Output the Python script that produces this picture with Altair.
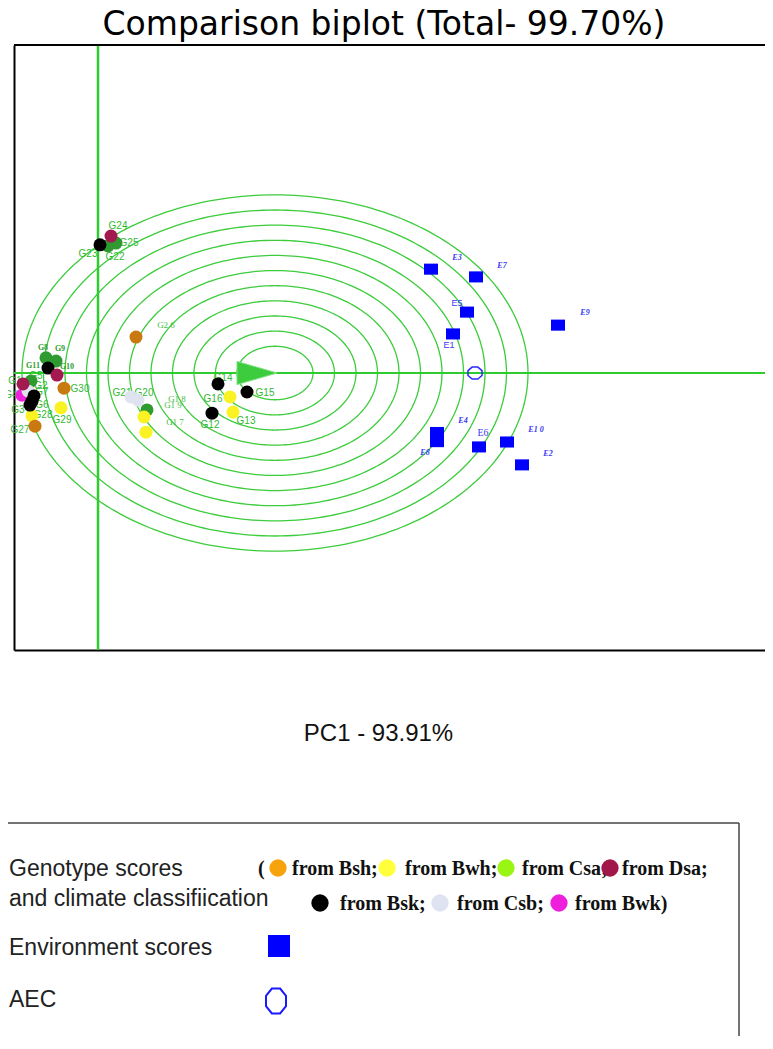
import altair as alt
import numpy as np
import pandas as pd

# ---------------- data (biplot units) ----------------
GEN_NAMES = [f"G{i}" for i in range(1, 31)]
GEN_GROUPS = ["Dsa", "Csb", "Bsk", "Bwk", "Csa", "Bsk", "Bsk", "Csa", "Csa", "Dsa",
              "Bsk", "Bsk", "Bwh", "Bsk", "Bsk", "Bwh", "Bwh", "Bwh", "Csa", "Csb",
              "Csb", "Csa", "Bsk", "Dsa", "Csa", "Bsh", "Bsh", "Bwh", "Bwh", "Bsh"]
GEN_PC1 = [-1.50, -1.40, -1.36, -1.52, -1.34, -1.32, -1.28, -1.04, -0.84, -0.82,
           -1.00, 2.28, 2.70, 2.40, 2.98, 2.64, 0.96, 0.92, 0.98, 0.80,
           0.66, 0.20, 0.04, 0.26, 0.36, 0.76, -1.26, -1.32, -0.74, -0.68]
GEN_PC2 = [-0.31, -0.51, -0.91, -0.63, -0.23, -0.80, -0.65, 0.43, 0.34, -0.06,
           0.14, -1.14, -1.11, -0.31, -0.54, -0.68, -1.68, -1.25, -1.05, -0.77,
           -0.68, 3.61, 3.64, 3.89, 3.69, 1.02, -1.51, -1.22, -0.99, -0.43]
GEN_LABELS = ["G1", "G2", "G3", "G4", "G5", "G6", "G7", "G8", "G9", "G10",
              "G11", "G12", "G13", "G14", "G15", "G16", "G1 7", "G1 8", "G1 9", "G20",
              "G21", "G22", "G23", "G24", "G25", "G2 6", "G27", "G28", "G29", "G30"]
GEN_LABEL_PC1 = [-1.66, -1.14, -1.60, -1.74, -1.24, -1.12, -1.12, -1.10, -0.76, -0.62,
                 -1.30, 2.24, 2.96, 2.50, 3.34, 2.30, 1.54, 1.58, 1.50, 0.92,
                 0.48, 0.34, -0.20, 0.40, 0.62, 1.36, -1.56, -1.10, -0.72, -0.36]
GEN_LABEL_PC2 = [-0.23, -0.37, -1.05, -0.63, -0.09, -0.91, -0.54, 0.71, 0.68, 0.17,
                 0.20, -1.48, -1.36, -0.14, -0.57, -0.74, -1.39, -0.74, -0.91, -0.57,
                 -0.57, 3.30, 3.38, 4.18, 3.69, 1.36, -1.62, -1.19, -1.34, -0.45]

ENV_NAMES = [f"E{i}" for i in range(1, 11)]
ENV_LABELS = ["E1", "E2", "E3", "E4", "E5", "E6", "E7", "E8", "E9", "E1 0"]
ENV_PC1 = [7.10, 8.48, 6.66, 6.78, 7.38, 7.62, 7.56, 6.78, 9.20, 8.18]
ENV_PC2 = [1.11, -2.61, 2.95, -1.69, 1.73, -2.10, 2.73, -1.95, 1.36, -1.96]
ENV_LABEL_PC1 = [7.02, 9.00, 7.18, 7.30, 7.18, 7.70, 8.08, 6.54, 9.74, 8.76]
ENV_LABEL_PC2 = [0.80, -2.30, 3.27, -1.36, 1.99, -1.70, 3.04, -2.27, 1.70, -1.62]

AEC_PC1 = [7.54]
AEC_PC2 = [0.0]
IDEAL_PC1 = [3.18]
IDEAL_PC2 = [0.0]
RING_CENTER = [3.54, 0.0]
RING_RADII = [0.76, 1.19, 1.62, 2.05, 2.48, 2.91, 3.34, 3.77, 4.20, 4.63, 5.06]

GROUPS = ["Bsh", "Bwh", "Csa", "Dsa", "Bsk", "Csb", "Bwk"]
PLOT_COLORS = ["#c8790f", "#fbf224", "#2f9a2f", "#a21a4f", "#000000", "#dfe3ef", "#ef22dd"]
LEGEND_COLORS = ["#f7a30c", "#ffff3a", "#9bf514", "#a1174a", "#000000", "#dde3f0", "#ee20dc"]
DRAW_RANK = {"Csa": 0, "Bwk": 1, "Csb": 2, "Bwh": 3, "Bsh": 4, "Bsk": 5, "Dsa": 6}

TITLE = "Comparison biplot (Total- 99.70%)"
X_TITLE = "PC1 - 93.91%"

# label styles
SERIF_BOLD_LABELS = ["G8", "G9", "G10", "G11"]
SERIF_LABELS = ["G1 7", "G1 8", "G1 9", "G2 6"]
ENV_SANS = ["E1", "E5"]
ENV_SERIF = ["E6"]

# ---------------- tables ----------------
gen = pd.DataFrame({"name": GEN_NAMES, "group": GEN_GROUPS, "pc1": GEN_PC1, "pc2": GEN_PC2})
gen["rank"] = gen["group"].map(DRAW_RANK)
gen = gen.sort_values("rank", kind="stable")
gen_lab = pd.DataFrame({"label": GEN_LABELS, "pc1": GEN_LABEL_PC1, "pc2": GEN_LABEL_PC2})
env = pd.DataFrame({"name": ENV_NAMES, "pc1": ENV_PC1, "pc2": ENV_PC2})
env_lab = pd.DataFrame({"label": ENV_LABELS, "pc1": ENV_LABEL_PC1, "pc2": ENV_LABEL_PC2})
aec = pd.DataFrame({"pc1": AEC_PC1, "pc2": AEC_PC2})
ideal = pd.DataFrame({"pc1": IDEAL_PC1, "pc2": IDEAL_PC2})

theta = np.linspace(0, 2 * np.pi, 241)
ring_rows = []
for k, r in enumerate(RING_RADII):
    for i, t in enumerate(theta):
        ring_rows.append({"ring": k, "idx": i,
                          "pc1": RING_CENTER[0] + r * np.cos(t),
                          "pc2": RING_CENTER[1] + r * np.sin(t)})
rings = pd.DataFrame(ring_rows)

# ---------------- scales / axes ----------------
W, H = 751, 605
xscale = alt.Scale(domain=[-1.68, 13.34], nice=False, zero=False)
yscale = alt.Scale(domain=[-7.869, 9.318], nice=False, zero=False)
xaxis = alt.Axis(title=X_TITLE, domain=True, domainColor="black", domainWidth=2,
                 ticks=False, labels=False, grid=False,
                 titleFont="Liberation Sans", titleFontSize=24, titleFontWeight="normal",
                 titleColor="#111111", titleX=364, titleY=90,
                 titleBaseline="alphabetic", titleAlign="center")
yaxis = alt.Axis(title="", domain=True, domainColor="black", domainWidth=2,
                 ticks=False, labels=False, grid=False)


def X(field="pc1"):
    return alt.X(f"{field}:Q", scale=xscale, axis=xaxis)


def Y(field="pc2"):
    return alt.Y(f"{field}:Q", scale=yscale, axis=yaxis)


GREEN = "#3ccc3c"
color_scale = alt.Scale(domain=GROUPS, range=PLOT_COLORS)

ring_layer = alt.Chart(rings).mark_line(color=GREEN, strokeWidth=1.3).encode(
    x=X(), y=Y(), detail="ring:N", order="idx:Q")

hline = alt.Chart(pd.DataFrame({"pc2": [0.0]})).mark_rule(color="#2ecc2e", strokeWidth=2.2).encode(y=Y())
vline = alt.Chart(pd.DataFrame({"pc1": [0.0]})).mark_rule(color="#2ecc2e", strokeWidth=2.5).encode(x=X())

top_frame = alt.Chart(pd.DataFrame({"a": [0]})).mark_rule(color="black", strokeWidth=2).encode(
    x=alt.value(0), x2=alt.value(W), y=alt.value(0))

title_mark = alt.Chart(pd.DataFrame({"t": [TITLE]})).mark_text(
    font="DejaVu Sans", fontSize=33, color="#000000", align="center", baseline="alphabetic"
).encode(x=alt.value(370), y=alt.value(-10), text="t:N")

arrow = alt.Chart(ideal).mark_point(
    shape="M-1,-0.58L1,0L-1,0.58Z", size=1600, filled=True, fill="#3dcc3d",
    stroke="#7fe27f", strokeWidth=1, opacity=1).encode(x=X(), y=Y())

lab_base = alt.Chart(gen_lab)
gen_lab_sans = lab_base.transform_filter(
    ~alt.FieldOneOfPredicate(field="label", oneOf=SERIF_BOLD_LABELS + SERIF_LABELS)
).mark_text(font="Liberation Sans", fontSize=10, color="#33b833").encode(x=X(), y=Y(), text="label:N")
gen_lab_sb = lab_base.transform_filter(
    alt.FieldOneOfPredicate(field="label", oneOf=SERIF_BOLD_LABELS)
).mark_text(font="Liberation Serif", fontSize=8, fontWeight="bold", color="#2e9e2e").encode(
    x=X(), y=Y(), text="label:N")
gen_lab_s = lab_base.transform_filter(
    alt.FieldOneOfPredicate(field="label", oneOf=SERIF_LABELS)
).mark_text(font="Liberation Serif", fontSize=9, color="#44c044").encode(x=X(), y=Y(), text="label:N")

gen_pts = alt.Chart(gen).mark_circle(size=169, opacity=1).encode(
    x=X(), y=Y(), color=alt.Color("group:N", scale=color_scale, legend=None))

env_pts = alt.Chart(env).mark_point(
    shape="M-1,-0.79L1,-0.79L1,0.79L-1,0.79Z", size=196, filled=True, fill="#0000ff",
    opacity=1).encode(x=X(), y=Y())

env_base = alt.Chart(env_lab)
env_lab_it = env_base.transform_filter(
    ~alt.FieldOneOfPredicate(field="label", oneOf=ENV_SANS + ENV_SERIF)
).mark_text(font="Liberation Serif", fontSize=8, fontStyle="italic", fontWeight="bold",
            color="#3a3af0").encode(x=X(), y=Y(), text="label:N")
env_lab_sans = env_base.transform_filter(
    alt.FieldOneOfPredicate(field="label", oneOf=ENV_SANS)
).mark_text(font="Liberation Sans", fontSize=9, color="#3a3af0").encode(x=X(), y=Y(), text="label:N")
env_lab_serif = env_base.transform_filter(
    alt.FieldOneOfPredicate(field="label", oneOf=ENV_SERIF)
).mark_text(font="Liberation Serif", fontSize=10, color="#3a3af0").encode(x=X(), y=Y(), text="label:N")

OCTAGON = "M-0.41,-0.85L0.41,-0.85L1,-0.35L1,0.35L0.41,0.85L-0.41,0.85L-1,0.35L-1,-0.35Z"
aec_pt = alt.Chart(aec).mark_point(shape=OCTAGON, size=196, filled=False, stroke="#2a2aff",
                                   strokeWidth=1.5, opacity=1).encode(x=X(), y=Y())


# ---------------- custom legend box ----------------
def ltext(txt, x, y, size, font, weight="normal", color="#222222"):
    return alt.Chart(pd.DataFrame({"t": [txt]})).mark_text(
        align="left", baseline="alphabetic", font=font, fontSize=size,
        fontWeight=weight, color=color).encode(x=alt.value(x), y=alt.value(y), text="t:N")


def ldot(color, x, y):
    return alt.Chart(pd.DataFrame({"c": [color]})).mark_circle(
        size=300, color=color, opacity=1).encode(x=alt.value(x), y=alt.value(y))


legend_layers = [
    alt.Chart(pd.DataFrame({"a": [0]})).mark_rule(color="#444444", strokeWidth=1.5).encode(
        x=alt.value(-6), x2=alt.value(725), y=alt.value(778)),
    alt.Chart(pd.DataFrame({"a": [0]})).mark_rule(color="#444444", strokeWidth=1.5).encode(
        x=alt.value(725), y=alt.value(778), y2=alt.value(991)),
    ltext("Genotype scores", -5, 831, 23, "Liberation Sans"),
    ltext("and climate classifiication", -5, 861, 23, "Liberation Sans"),
    ltext("Environment scores", -5, 910, 23, "Liberation Sans"),
    ltext("AEC", -5, 962, 23, "Liberation Sans"),
]

SERIF = "Liberation Serif"
row1 = [("(", 244, None), ("from Bsh;", 278, (0, 264)), ("from Bwh;", 391, (1, 373)),
        ("from Csa;", 508, (2, 492)), ("from Dsa;", 608, (3, 596))]
row2 = [("from Bsk;", 326, (4, 306)), ("from Csb;", 443, (5, 426)), ("from Bwk)", 561, (6, 545))]
for txt, x, dot in row1:
    legend_layers.append(ltext(txt, x, 830, 20, SERIF, "bold", "#111111"))
    if dot:
        legend_layers.append(ldot(LEGEND_COLORS[dot[0]], dot[1], 823))
for txt, x, dot in row2:
    legend_layers.append(ltext(txt, x, 865, 20, SERIF, "bold", "#111111"))
    legend_layers.append(ldot(LEGEND_COLORS[dot[0]], dot[1], 858))

legend_layers.append(
    alt.Chart(pd.DataFrame({"a": [0]})).mark_point(
        shape="square", size=484, filled=True, fill="#0000ff", opacity=1).encode(
        x=alt.value(265), y=alt.value(901)))
legend_layers.append(
    alt.Chart(pd.DataFrame({"a": [0]})).mark_point(
        shape="M-0.33,-1L0.33,-1L0.8,-0.42L0.8,0.42L0.33,1L-0.33,1L-0.8,0.42L-0.8,-0.42Z",
        size=625, filled=False, stroke="#1a1aff", strokeWidth=2, opacity=1).encode(
        x=alt.value(262), y=alt.value(956)))

chart = alt.layer(
    ring_layer, hline, vline, top_frame, title_mark, arrow,
    gen_lab_sans, gen_lab_sb, gen_lab_s, gen_pts,
    env_pts, env_lab_it, env_lab_sans, env_lab_serif, aec_pt,
    *legend_layers
).properties(
    width=W, height=H,
    padding={"left": 6, "top": 37, "right": 0, "bottom": 386},
    autosize=alt.AutoSizeParams(type="none"),
).configure_view(strokeWidth=0).configure(background="white")

chart.save("out.html", embed_options={"renderer": "svg", "actions": False})
